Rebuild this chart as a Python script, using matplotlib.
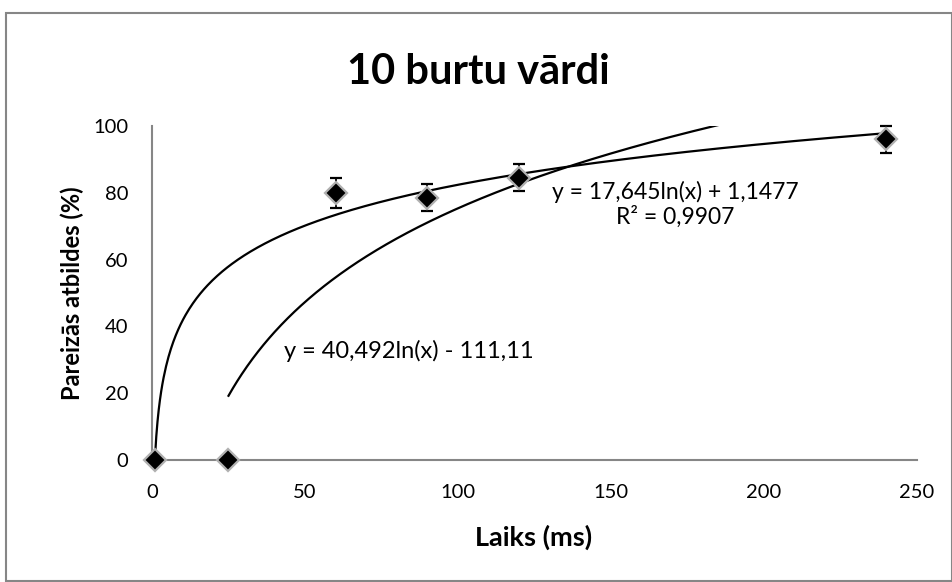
import numpy as np
import matplotlib
matplotlib.use("Agg")
import matplotlib.pyplot as plt
from matplotlib.patches import Rectangle

plt.rcParams['font.family'] = ['Lato', 'DejaVu Sans']

# Measurements: time (ms) vs. share of correct answers (%)
times = [1, 25, 60, 90, 120, 240]
correct = [0, 0, 80, 78.5, 84.5, 96]
errors = [0, 0, 4.5, 4, 4, 4]

# Logarithmic trend lines: y = a*ln(x) + b
trend_all = (17.645, 1.1477)
trend_all_range = (1, 240)
trend_late = (40.492, -111.11)
trend_late_range = (25, 240)

x_ticks = [0, 50, 100, 150, 200, 250]
y_ticks = [0, 20, 40, 60, 80, 100]

fig = plt.figure(figsize=(9.53, 5.82), dpi=100)
fig.patch.set_facecolor('white')
fig.add_artist(Rectangle((6 / 953, 0.002), 946 / 953, 1 - 13 / 582 - 0.002,
                         transform=fig.transFigure, fill=False,
                         edgecolor='#868686', linewidth=1.5))

ax = fig.add_axes([152 / 953, 1 - 460 / 582, 765 / 953, 334 / 582])

for (a, b), (x0, x1) in [(trend_all, trend_all_range), (trend_late, trend_late_range)]:
    xs = np.linspace(x0, x1, 600)
    ax.plot(xs, a * np.log(xs) + b, color='black', linewidth=1.6, zorder=2)

ax.errorbar(times, correct, yerr=errors, fmt='D', markersize=11,
            markerfacecolor='black', markeredgecolor='#b0b0b0', markeredgewidth=1.6,
            ecolor='black', elinewidth=1.3, capsize=4.5, capthick=1.8, zorder=3,
            clip_on=False)

ax.set_xlim(0, 250)
ax.set_ylim(0, 100)
ax.set_xticks(x_ticks)
ax.set_yticks(y_ticks)
ax.tick_params(length=0, labelsize=14.5, pad=17)
for side in ['top', 'right']:
    ax.spines[side].set_visible(False)
for side in ['left', 'bottom']:
    ax.spines[side].set_color('#868686')
    ax.spines[side].set_linewidth(1.5)

fig.text(534 / 953, 1 - 537 / 582, 'Laiks (ms)', ha='center', va='center',
         fontsize=19.5, fontweight='bold')
fig.text(72 / 953, 1 - 293 / 582, 'Pareizās atbildes (%)', ha='center', va='center',
         rotation=90, fontsize=17, fontweight='bold')
fig.text(478 / 953, 1 - 72 / 582, '10 burtu vārdi', ha='center', va='center',
         fontsize=30, fontweight='bold')

ax.text(171, 76.5, 'y = 17,645ln(x) + 1,1477\nR² = 0,9907', ha='center', va='center',
        fontsize=16.5, linespacing=1.15)
ax.text(84, 32.5, 'y = 40,492ln(x) - 111,11', ha='center', va='center', fontsize=17)

fig.savefig('out.png', dpi=100)
